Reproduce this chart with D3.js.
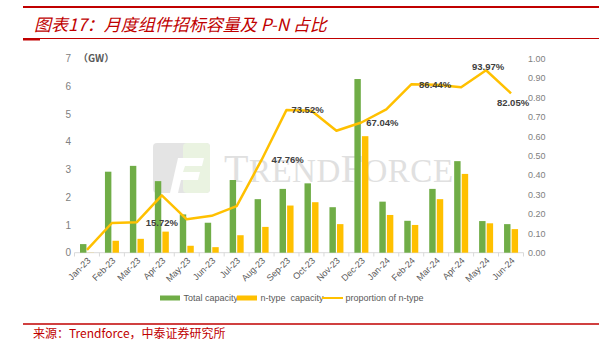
<!DOCTYPE html>
<html>
<head>
<meta charset="utf-8">
<script src="https://cdn.jsdelivr.net/npm/d3@7"></script>
<style>
  html, body { margin: 0; padding: 0; background: #fff; }
  svg { display: block; }
</style>
</head>
<body>
<div id="chart"></div>
<script>
// chart data
const months = ["Jan-23", "Feb-23", "Mar-23", "Apr-23", "May-23", "Jun-23", "Jul-23", "Aug-23", "Sep-23",
                "Oct-23", "Nov-23", "Dec-23", "Jan-24", "Feb-24", "Mar-24", "Apr-24", "May-24", "Jun-24"];
const totalCapacity = [0.31, 2.92, 3.13, 2.58, 1.38, 1.08, 2.62, 1.93, 2.30, 2.50, 1.64, 6.26, 1.84, 1.15, 2.30, 3.30, 1.14, 1.03];
const ntypeCapacity = [0.005, 0.43, 0.50, 0.76, 0.25, 0.20, 0.63, 0.93, 1.70, 1.82, 1.03, 4.20, 1.36, 1.00, 1.93, 2.84, 1.06, 0.85];
const proportion = [0.015, 0.153, 0.1572, 0.295, 0.172, 0.19, 0.24, 0.4776, 0.7352, 0.731, 0.628, 0.6704,
                    0.738, 0.867, 0.8644, 0.852, 0.9397, 0.8205];
const leftTicks = [0, 1, 2, 3, 4, 5, 6, 7];
const rightTicks = [0, 0.1, 0.2, 0.3, 0.4, 0.5, 0.6, 0.7, 0.8, 0.9, 1.0];
// data labels as printed on the chart (month they hang off + nudge)
const pctLabels = [
  { month: "Mar-23", text: "15.72%", dx: 25, dy: 0 },
  { month: "Aug-23", text: "47.76%", dx: 26, dy: 0 },
  { month: "Sep-23", text: "73.52%", dx: 21, dy: 0 },
  { month: "Dec-23", text: "67.04%", dx: 21, dy: 0 },
  { month: "Mar-24", text: "86.44%", dx: -1, dy: 0 },
  { month: "May-24", text: "93.97%", dx: 2, dy: -4 },
  { month: "Jun-24", text: "82.05%", dx: 2, dy: 9 }
];
const seriesNames = ["Total capacity", "n-type  capacity", "proportion of n-type"];

const width = 599, height = 354;
const GREEN = "#70AD47", GOLD = "#FFC000", RED = "#C00000";

const svg = d3.select("#chart").append("svg")
    .attr("width", width)
    .attr("height", height);

svg.append("rect").attr("width", width).attr("height", height).attr("fill", "#fff");

// header + footer rules
svg.append("line").attr("x1", 23).attr("x2", width).attr("y1", 7).attr("y2", 7)
    .attr("stroke", RED).attr("stroke-width", 2);
svg.append("line").attr("x1", 23).attr("x2", width).attr("y1", 38.5).attr("y2", 38.5)
    .attr("stroke", RED).attr("stroke-width", 1);
svg.append("line").attr("x1", 23).attr("x2", 40).attr("y1", 39.5).attr("y2", 39.5)
    .attr("stroke", RED).attr("stroke-width", 2);
svg.append("line").attr("x1", 23).attr("x2", width).attr("y1", 324).attr("y2", 324)
    .attr("stroke", RED).attr("stroke-width", 1.5);

svg.append("text")
    .attr("x", 34).attr("y", 31)
    .attr("fill", RED)
    .style("font-family", "'Noto Sans CJK SC', sans-serif")
    .style("font-style", "italic")
    .style("font-size", "17px")
    .text("图表17：月度组件招标容量及 P-N 占比");

svg.append("text")
    .attr("x", 33).attr("y", 338)
    .attr("fill", RED)
    .style("font-family", "'Noto Sans CJK SC', sans-serif")
    .style("font-size", "12px")
    .text("来源：Trendforce，中泰证券研究所");

// scales
const x = d3.scaleBand().domain(months).range([74.5, 523.5]);
const sub = d3.scaleBand().domain(["total", "ntype"]).range([5.5, 19.5]).paddingInner(0.15);
const yL = d3.scaleLinear().domain([0, 7]).range([252.7, 58.5]);
const yR = d3.scaleLinear().domain([0, 1]).range([252.7, 58.5]);
const cx = m => x(m) + x.bandwidth() / 2;

// faint TrendForce watermark
const wm = svg.append("g").attr("opacity", 0.75);
wm.append("rect").attr("x", 153).attr("y", 143).attr("width", 57).attr("height", 50).attr("rx", 4)
    .attr("fill", "#dcdcdc");
wm.append("rect").attr("x", 183).attr("y", 143).attr("width", 27).attr("height", 50).attr("rx", 4)
    .attr("fill", "#e3efd8");
wm.append("path").attr("d", "M170,193 L178,158 L204,158 L202,166 L185,166 L183,172 L200,172 L198,180 L181,180 L178,193 Z")
    .attr("fill", "#fff");
const wmText = wm.append("text")
    .attr("x", 224).attr("y", 182)
    .attr("fill", "#d6d6d6")
    .style("font-family", "'Liberation Serif', serif")
    .style("letter-spacing", "0.5px");
wmText.append("tspan").style("font-size", "40px").text("T");
wmText.append("tspan").style("font-size", "33px").text("REND");
wmText.append("tspan").style("font-size", "40px").text("F");
wmText.append("tspan").style("font-size", "33px").text("ORCE");

// x axis baseline and ticks
svg.append("line").attr("x1", 74.5).attr("x2", 523.5).attr("y1", 252.7).attr("y2", 252.7)
    .attr("stroke", "#d9d9d9");
svg.append("g").selectAll("line")
    .data(months.concat(["end"]))
    .join("line")
    .attr("x1", (d, i) => i < months.length ? x(d) : x.range()[1])
    .attr("x2", (d, i) => i < months.length ? x(d) : x.range()[1])
    .attr("y1", 252.7).attr("y2", 256.5)
    .attr("stroke", "#d9d9d9");

svg.append("g").selectAll("text")
    .data(months)
    .join("text")
    .attr("transform", d => `translate(${cx(d) + 2},${259}) rotate(-45)`)
    .attr("text-anchor", "end")
    .attr("dy", "0.35em")
    .attr("fill", "#595959")
    .style("font-family", "'Liberation Sans', Arial, sans-serif")
    .style("font-size", "9px")
    .text(d => d);

// left axis
const leftAxis = svg.append("g")
    .attr("transform", "translate(74,0)")
    .call(d3.axisLeft(yL).tickValues(leftTicks).tickSize(0).tickPadding(3).tickFormat(d3.format("d")));
leftAxis.select(".domain").remove();
leftAxis.selectAll("text")
    .attr("fill", "#808080")
    .style("font-family", "'Liberation Sans', Arial, sans-serif")
    .style("font-size", "10px");

svg.append("text")
    .attr("x", 78).attr("y", 62)
    .attr("fill", "#595959")
    .style("font-family", "'Noto Sans CJK SC', sans-serif")
    .style("font-size", "10px")
    .style("font-weight", "bold")
    .text("（GW）");

// right axis
const rightAxis = svg.append("g")
    .attr("transform", "translate(523,0)")
    .call(d3.axisRight(yR).tickValues(rightTicks).tickSize(0).tickPadding(5).tickFormat(d3.format(".2f")));
rightAxis.select(".domain").remove();
rightAxis.selectAll("text")
    .attr("fill", "#808080")
    .style("font-family", "'Liberation Sans', Arial, sans-serif")
    .style("font-size", "9px");

// bars
const groups = svg.append("g").selectAll("g")
    .data(months.map((m, i) => ({ m, total: totalCapacity[i], ntype: ntypeCapacity[i] })))
    .join("g")
    .attr("transform", d => `translate(${x(d.m)},0)`);

groups.append("rect")
    .attr("x", sub("total"))
    .attr("width", sub.bandwidth())
    .attr("y", d => yL(d.total))
    .attr("height", d => yL(0) - yL(d.total))
    .attr("fill", GREEN);

groups.append("rect")
    .attr("x", sub("ntype"))
    .attr("width", sub.bandwidth())
    .attr("y", d => yL(d.ntype))
    .attr("height", d => yL(0) - yL(d.ntype))
    .attr("fill", GOLD);

// proportion line
const line = d3.line()
    .x((d, i) => cx(months[i]))
    .y(d => yR(d));

svg.append("path")
    .datum(proportion)
    .attr("d", line)
    .attr("fill", "none")
    .attr("stroke", GOLD)
    .attr("stroke-width", 2.5)
    .attr("stroke-linejoin", "round");

// percentage labels
svg.append("g").selectAll("text")
    .data(pctLabels)
    .join("text")
    .attr("x", d => cx(d.month) + d.dx)
    .attr("y", d => yR(proportion[months.indexOf(d.month)]) + d.dy)
    .attr("text-anchor", "middle")
    .attr("dominant-baseline", "central")
    .attr("fill", "#404040")
    .style("font-family", "'Liberation Sans', Arial, sans-serif")
    .style("font-size", "9.5px")
    .style("font-weight", "bold")
    .text(d => d.text);

// legend
const legend = svg.append("g").attr("transform", "translate(160,298)");
const legendItems = [
  { name: seriesNames[0], type: "rect", color: GREEN, x: 0 },
  { name: seriesNames[1], type: "rect", color: GOLD, x: 77 },
  { name: seriesNames[2], type: "line", color: GOLD, x: 162 }
];
legendItems.forEach(d => {
    if (d.type === "rect") {
        legend.append("rect").attr("x", d.x).attr("y", -2.5).attr("width", 20).attr("height", 5)
            .attr("fill", d.color);
    } else {
        legend.append("line").attr("x1", d.x).attr("x2", d.x + 21).attr("y1", 0).attr("y2", 0)
            .attr("stroke", d.color).attr("stroke-width", 2);
    }
    legend.append("text")
        .attr("x", d.x + 23.5)
        .attr("y", 0)
        .attr("dominant-baseline", "central")
        .attr("fill", "#595959")
        .style("font-family", "'Liberation Sans', Arial, sans-serif")
        .style("font-size", "9px")
        .style("white-space", "pre")
        .attr("xml:space", "preserve")
        .text(d.name);
});
</script>
</body>
</html>
